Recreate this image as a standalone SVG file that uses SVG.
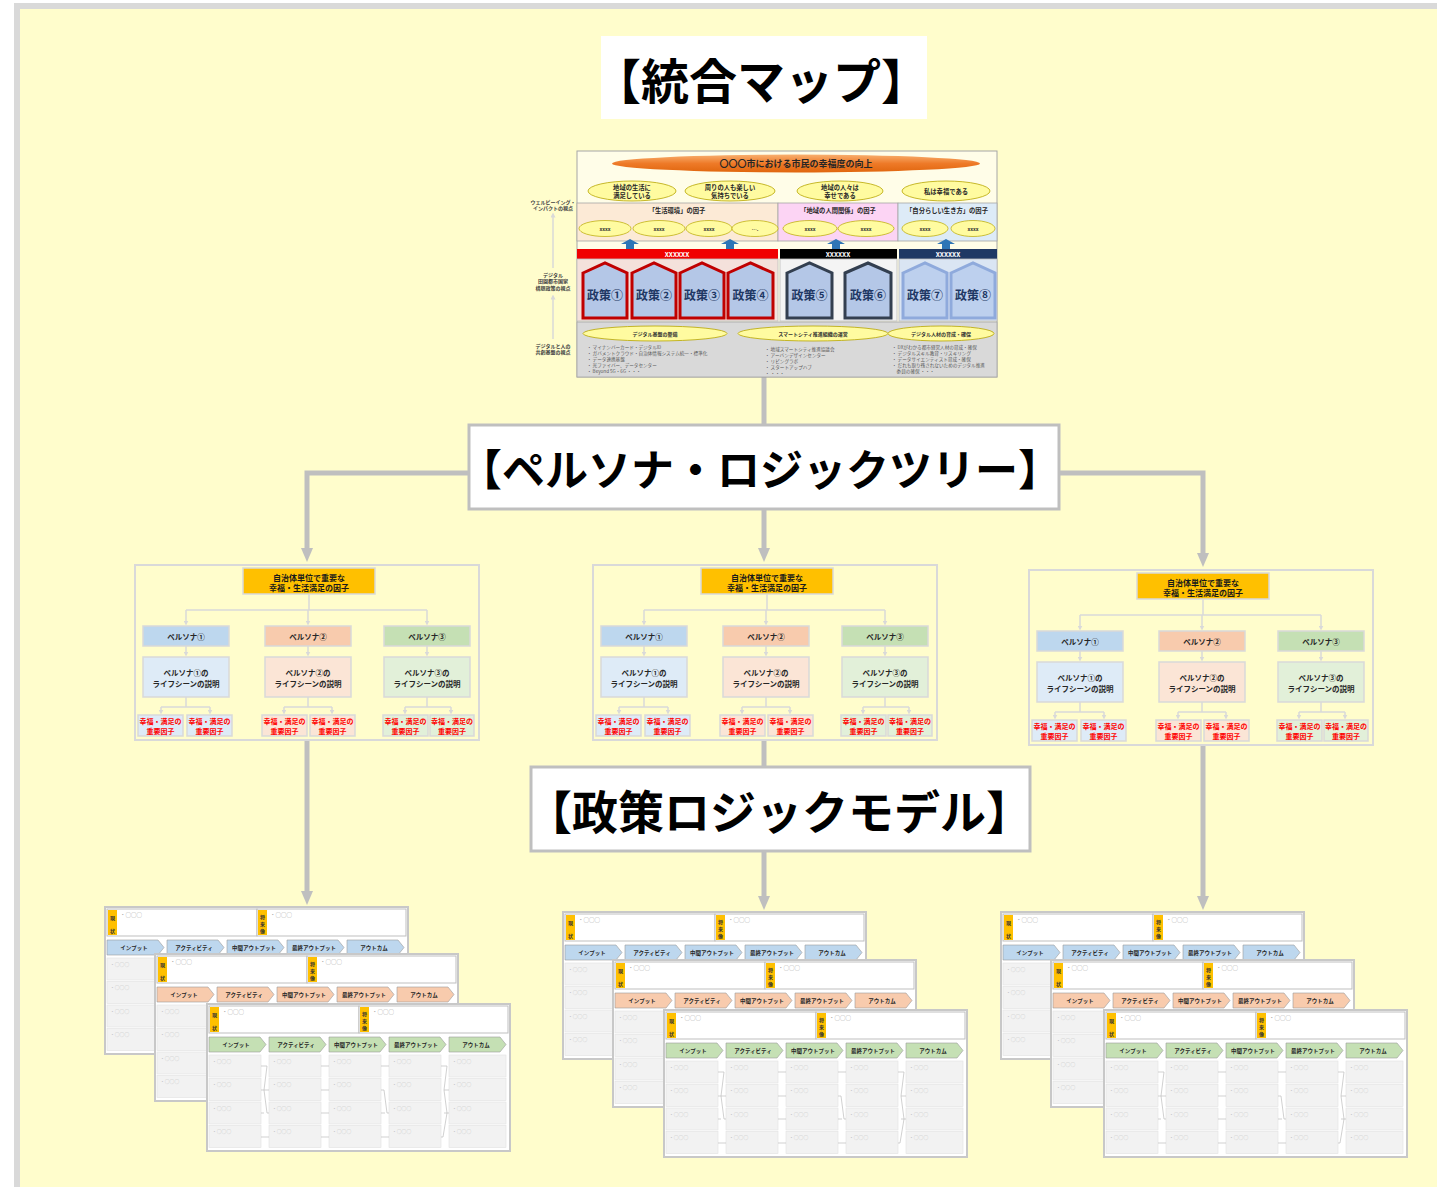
<svg xmlns="http://www.w3.org/2000/svg" xmlns:xlink="http://www.w3.org/1999/xlink" width="1437" height="1187" viewBox="0 0 1437 1187">
<style>
text{font-family:"Noto Sans CJK JP","Noto Sans",sans-serif;}
.ttl{font-weight:700;fill:#000;text-anchor:middle;dominant-baseline:central;}
.c{text-anchor:middle;dominant-baseline:central;font-weight:700;}
.pt{font-size:8px;fill:#1a1a1a;}
.pl{font-size:7.5px;fill:#262626;}
.pr{font-size:7px;fill:#FF0000;}
.m9{font-size:9px;fill:#262626;}
.m6{font-size:6.3px;fill:#262626;}
.m5{font-size:5px;fill:#333;}
.xw{font-size:6.5px;fill:#fff;}
.pol{font-size:12px;fill:#1F3864;}
.bl{font-size:4.6px;fill:#595959;dominant-baseline:central;}
.lab{font-size:5px;fill:#404040;}
.tg{font-size:5px;fill:#333;text-anchor:middle;dominant-baseline:central;font-weight:700;}
.oo{font-size:5.5px;fill:#A6A6A6;dominant-baseline:central;}
.ch{font-size:5.5px;fill:#262626;text-anchor:middle;dominant-baseline:central;font-weight:700;}
.oc{font-size:4.8px;fill:#C0C0C0;dominant-baseline:central;}
.cell{fill:#F2F2F2;stroke:#E2E2E2;stroke-width:0.6;}
.chev{stroke:#9A9A9A;stroke-width:0.6;}
.zz{fill:none;stroke:#BDBDBD;stroke-width:0.7;}
.con{fill:none;stroke:#BFBFBF;stroke-width:5;}
.tl{fill:none;stroke:#D9D9D9;stroke-width:1.5;}
.pbox{fill:#FFFDCC;stroke:#D9D9D9;stroke-width:2;}
.bx{stroke:#D9D9D9;stroke-width:1.5;}
.ye{fill:#FFFBA0;stroke:#B8A600;stroke-width:0.8;}
.ys{fill:#FFFBA0;stroke:#B8A600;stroke-width:0.7;}
</style>
<defs>
<linearGradient id="og" x1="0" y1="0" x2="0" y2="1">
<stop offset="0" stop-color="#F8B070"/>
<stop offset="0.5" stop-color="#EE7A28"/>
<stop offset="1" stop-color="#E0660E"/>
</linearGradient>
<marker id="ah" viewBox="0 0 14 12" refX="4" refY="6" markerWidth="14" markerHeight="12" markerUnits="userSpaceOnUse" orient="auto">
<path d="M0,0 L14,6 L0,12 z" fill="#BFBFBF"/>
</marker>
<marker id="sa" viewBox="0 0 6 6" refX="3" refY="3" markerWidth="5" markerHeight="5" markerUnits="userSpaceOnUse" orient="auto">
<path d="M0,0 L6,3 L0,6 z" fill="#D9D9D9"/>
</marker>
<g id="sheet">
<rect x="0" y="0" width="303" height="147" fill="#FFFFFF" stroke="#C8C8C8" stroke-width="2"/>
<rect x="2" y="2" width="150" height="27" fill="#FFFFFF" stroke="#BFBFBF" stroke-width="1"/>
<rect x="152" y="2" width="149" height="27" fill="#FFFFFF" stroke="#BFBFBF" stroke-width="1"/>
<rect x="3" y="3" width="9" height="25" fill="#FFC000"/>
<rect x="153" y="3" width="9" height="25" fill="#FFC000"/>
<text class="tg" x="7.5" y="10">現</text>
<text class="tg" x="7.5" y="23">状</text>
<text class="tg" x="157.5" y="9">将</text>
<text class="tg" x="157.5" y="16">来</text>
<text class="tg" x="157.5" y="23">像</text>
<text class="oo" x="15" y="8">・○○○</text>
<text class="oo" x="165" y="8">・○○○</text>
<path class="chev" d="M2,33 h51 l6,7.5 l-6,7.5 h-51 z"/>
<path class="chev" d="M62,33 h51 l6,7.5 l-6,7.5 h-51 z"/>
<path class="chev" d="M122,33 h51 l6,7.5 l-6,7.5 h-51 z"/>
<path class="chev" d="M182,33 h51 l6,7.5 l-6,7.5 h-51 z"/>
<path class="chev" d="M242,33 h51 l6,7.5 l-6,7.5 h-51 z"/>
<text class="ch" x="29" y="40.5">インプット</text>
<text class="ch" x="89" y="40.5">アクティビティ</text>
<text class="ch" x="149" y="40.5">中間アウトプット</text>
<text class="ch" x="209" y="40.5">最終アウトプット</text>
<text class="ch" x="269" y="40.5">アウトカム</text>
<rect class="cell" x="2" y="51" width="52" height="22"/><rect class="cell" x="2" y="74.5" width="52" height="22"/><rect class="cell" x="2" y="98" width="52" height="22"/><rect class="cell" x="2" y="121.5" width="52" height="22"/>
<rect class="cell" x="62" y="51" width="52" height="22"/><rect class="cell" x="62" y="74.5" width="52" height="22"/><rect class="cell" x="62" y="98" width="52" height="22"/><rect class="cell" x="62" y="121.5" width="52" height="22"/>
<rect class="cell" x="122" y="51" width="52" height="22"/><rect class="cell" x="122" y="74.5" width="52" height="22"/><rect class="cell" x="122" y="98" width="52" height="22"/><rect class="cell" x="122" y="121.5" width="52" height="22"/>
<rect class="cell" x="182" y="51" width="52" height="22"/><rect class="cell" x="182" y="74.5" width="52" height="22"/><rect class="cell" x="182" y="98" width="52" height="22"/><rect class="cell" x="182" y="121.5" width="52" height="22"/>
<rect class="cell" x="242" y="51" width="57" height="22"/><rect class="cell" x="242" y="74.5" width="57" height="22"/><rect class="cell" x="242" y="98" width="57" height="22"/><rect class="cell" x="242" y="121.5" width="57" height="22"/>
<text class="oc" x="5" y="56">・○○○</text><text class="oc" x="5" y="79.5">・○○○</text><text class="oc" x="5" y="103">・○○○</text><text class="oc" x="5" y="126.5">・○○○</text>
<text class="oc" x="65" y="56">・○○○</text><text class="oc" x="65" y="79.5">・○○○</text><text class="oc" x="65" y="103">・○○○</text><text class="oc" x="65" y="126.5">・○○○</text>
<text class="oc" x="125" y="56">・○○○</text><text class="oc" x="125" y="79.5">・○○○</text><text class="oc" x="125" y="103">・○○○</text><text class="oc" x="125" y="126.5">・○○○</text>
<text class="oc" x="185" y="56">・○○○</text><text class="oc" x="185" y="79.5">・○○○</text><text class="oc" x="185" y="103">・○○○</text><text class="oc" x="185" y="126.5">・○○○</text>
<text class="oc" x="245" y="56">・○○○</text><text class="oc" x="245" y="79.5">・○○○</text><text class="oc" x="245" y="103">・○○○</text><text class="oc" x="245" y="126.5">・○○○</text>
<path class="zz" d="M54,62 h3 M57,62 h3 L57,86 h5 M54,86 h3 L60,109 h2 M54,109 h3 M54,133 h8"/>
<path class="zz" d="M114,62 h8 M114,86 h8 M114,109 h8 M114,133 h8"/>
<path class="zz" d="M174,62 h8 M174,86 h3 L180,109 h2 M174,109 h4 M174,133 h8"/>
<path class="zz" d="M234,62 h3 L240,62 L237,86 L240,109 L236,133 h-2 M237,86 h5 M237,109 h5"/>
</g>
</defs>

<rect x="14" y="3" width="1423" height="1184" fill="#D9D9D9"/>
<rect x="20" y="9" width="1417" height="1178" fill="#FFFDCC"/>

<g id="connectors">
<path class="con" d="M764,377 V425"/>
<path class="con" d="M469,473 H307 V552" marker-end="url(#ah)"/>
<path class="con" d="M1059,473 H1203 V557" marker-end="url(#ah)"/>
<path class="con" d="M764,509 V552" marker-end="url(#ah)"/>
<path class="con" d="M307,741 V895" marker-end="url(#ah)"/>
<path class="con" d="M764,741 V767"/>
<path class="con" d="M764,851 V900" marker-end="url(#ah)"/>
<path class="con" d="M1203,746 V900" marker-end="url(#ah)"/>
</g>

<g id="title-integrated-map">
<rect x="601" y="36" width="326" height="83" fill="#FFFFFF"/>
<text class="ttl" x="761" y="78" style="font-size:48px">【統合マップ】</text>
</g>

<g id="integrated-map">
<text class="c lab" x="553" y="201">ウェルビーイング・</text>
<text class="c lab" x="553" y="207.5">インパクトの視点</text>
<text class="c lab" x="553" y="274">デジタル</text>
<text class="c lab" x="553" y="280.5">田園都市国家</text>
<text class="c lab" x="553" y="287">構想政策の視点</text>
<text class="c lab" x="553" y="345">デジタルと人の</text>
<text class="c lab" x="553" y="351.5">共創基盤の視点</text>
<path class="tl" d="M553,339 V297" marker-end="url(#sa)" stroke-width="1"/>
<path class="tl" d="M553,268 V215" marker-end="url(#sa)" stroke-width="1"/>
<rect x="577" y="151" width="420" height="226" fill="#FFFDE8" stroke="#A6A6A6" stroke-width="1"/>
<ellipse cx="796" cy="163.5" rx="184" ry="9" fill="url(#og)"/>
<text class="c m9" x="796" y="163.5">〇〇〇市における市民の幸福度の向上</text>
<ellipse class="ye" cx="632" cy="191" rx="44" ry="10"/>
<ellipse class="ye" cx="730" cy="191" rx="45" ry="10"/>
<ellipse class="ye" cx="840" cy="191" rx="43" ry="10"/>
<ellipse class="ye" cx="946" cy="191" rx="44" ry="10"/>
<text class="c m6" x="632" y="187.5">地域の生活に</text>
<text class="c m6" x="632" y="195">満足している</text>
<text class="c m6" x="730" y="187.5">周りの人も楽しい</text>
<text class="c m6" x="730" y="195">気持ちでいる</text>
<text class="c m6" x="840" y="187.5">地域の人々は</text>
<text class="c m6" x="840" y="195">幸せである</text>
<text class="c m6" x="946" y="191">私は幸福である</text>
<rect x="577" y="203" width="201" height="38" fill="#FCEAD6" stroke="#A6A6A6" stroke-width="0.8"/>
<rect x="778" y="203" width="120" height="38" fill="#FCD4F4" stroke="#A6A6A6" stroke-width="0.8"/>
<rect x="898" y="203" width="99" height="38" fill="#DDEBF7" stroke="#A6A6A6" stroke-width="0.8"/>
<text class="c m6" x="677" y="210.5">「生活環境」の因子</text>
<text class="c m6" x="838" y="210.5">「地域の人間関係」の因子</text>
<text class="c m6" x="947" y="210.5">「自分らしい生き方」の因子</text>
<ellipse class="ys" cx="605" cy="228.5" rx="26" ry="8"/>
<ellipse class="ys" cx="659" cy="228.5" rx="26" ry="8"/>
<ellipse class="ys" cx="709" cy="228.5" rx="23" ry="8"/>
<ellipse class="ys" cx="755" cy="228.5" rx="23" ry="8"/>
<ellipse class="ys" cx="810" cy="228.5" rx="27" ry="8"/>
<ellipse class="ys" cx="866" cy="228.5" rx="28" ry="8"/>
<ellipse class="ys" cx="925" cy="228.5" rx="23" ry="8"/>
<ellipse class="ys" cx="973" cy="228.5" rx="22" ry="8"/>
<text class="c m5" x="605" y="228.5">xxxx</text>
<text class="c m5" x="659" y="228.5">xxxx</text>
<text class="c m5" x="709" y="228.5">xxxx</text>
<text class="c m5" x="755" y="228.5">….</text>
<text class="c m5" x="810" y="228.5">xxxx</text>
<text class="c m5" x="866" y="228.5">xxxx</text>
<text class="c m5" x="925" y="228.5">xxxx</text>
<text class="c m5" x="973" y="228.5">xxxx</text>
<g fill="#2E75B6">
<path d="M630,239 l9,5 h-5 v5 h-8 v-5 h-5 z"/>
<path d="M730,239 l9,5 h-5 v5 h-8 v-5 h-5 z"/>
<path d="M836,239 l9,5 h-5 v5 h-8 v-5 h-5 z"/>
<path d="M946,239 l9,5 h-5 v5 h-8 v-5 h-5 z"/>
</g>
<rect x="577" y="249" width="201" height="10" fill="#F00000"/>
<rect x="780" y="249" width="117" height="10" fill="#000000"/>
<rect x="899" y="249" width="98" height="10" fill="#1F3864"/>
<text class="c xw" x="677" y="254">XXXXXX</text>
<text class="c xw" x="838" y="254">XXXXXX</text>
<text class="c xw" x="948" y="254">XXXXXX</text>
<rect x="577" y="259" width="201" height="62" fill="#F4E1DB" stroke="#BFBFBF" stroke-width="0.8"/>
<rect x="780" y="259" width="117" height="62" fill="#F4F4F4" stroke="#BFBFBF" stroke-width="0.8"/>
<rect x="899" y="259" width="98" height="62" fill="#DAE5F3" stroke="#BFBFBF" stroke-width="0.8"/>
<g fill="#B4C7E7" stroke="#C00000" stroke-width="3">
<path d="M583,273 L605,263 L627,273 V318 H583 Z"/>
<path d="M632,273 L654,263 L676,273 V318 H632 Z"/>
<path d="M680,273 L702,263 L724,273 V318 H680 Z"/>
<path d="M728,273 L750.5,263 L773,273 V318 H728 Z"/>
</g>
<g fill="#B4C7E7" stroke="#333F50" stroke-width="3">
<path d="M787,273 L809.5,263 L832,273 V318 H787 Z"/>
<path d="M845,273 L868,263 L891,273 V318 H845 Z"/>
</g>
<g fill="#BDD0EE" stroke="#8FAADC" stroke-width="3">
<path d="M903,273 L925,263 L947,273 V318 H903 Z"/>
<path d="M951,273 L973,263 L995,273 V318 H951 Z"/>
</g>
<text class="c pol" x="605" y="294">政策①</text>
<text class="c pol" x="654" y="294">政策②</text>
<text class="c pol" x="702" y="294">政策③</text>
<text class="c pol" x="750.5" y="294">政策④</text>
<text class="c pol" x="809.5" y="294">政策⑤</text>
<text class="c pol" x="868" y="294">政策⑥</text>
<text class="c pol" x="925" y="294">政策⑦</text>
<text class="c pol" x="973" y="294">政策⑧</text>
<rect x="577" y="322" width="420" height="55" fill="#D9D9D9" stroke="#A6A6A6" stroke-width="0.8"/>
<ellipse class="ye" cx="655" cy="333.5" rx="72" ry="7.5"/>
<ellipse class="ye" cx="813" cy="333.5" rx="75" ry="7.5"/>
<ellipse class="ye" cx="941" cy="333.5" rx="53" ry="7.5"/>
<text class="c m5" x="655" y="333.5">デジタル基盤の整備</text>
<text class="c m5" x="813" y="333.5">スマートシティ推進組織の運営</text>
<text class="c m5" x="941" y="333.5">デジタル人材の育成・確保</text>
<text class="bl" x="587" y="347">・ マイナンバーカード・デジタルID</text>
<text class="bl" x="587" y="353">・ ガバメントクラウド・自治体情報システム統一・標準化</text>
<text class="bl" x="587" y="359">・ データ連携基盤</text>
<text class="bl" x="587" y="365">・ 光ファイバー、データセンター</text>
<text class="bl" x="587" y="371">・ Beyond 5G・6G ・・・</text>
<text class="bl" x="765" y="349">・ 地域スマートシティ推進協議会</text>
<text class="bl" x="765" y="355">・ アーバンデザインセンター</text>
<text class="bl" x="765" y="361">・ リビングラボ</text>
<text class="bl" x="765" y="367">・ スタートアップハブ</text>
<text class="bl" x="765" y="373">・ ・・・</text>
<text class="bl" x="892" y="347">・ DXがわかる都市経営人材の育成・確保</text>
<text class="bl" x="892" y="353">・ デジタルスキル教育・リスキリング</text>
<text class="bl" x="892" y="359">・ データサイエンティスト育成・確保</text>
<text class="bl" x="892" y="365">・ だれも取り残されないためのデジタル推進</text>
<text class="bl" x="892" y="371">　委員の確保 ・・・</text>
</g>

<g id="title-persona-logic-tree">
<rect x="469" y="425" width="590" height="84" fill="#FFFFFF" stroke="#BFBFBF" stroke-width="3"/>
<text class="ttl" x="760" y="467" style="font-size:43px">【ペルソナ・ロジックツリー】</text>
</g>

<g id="persona-tree-1" transform="translate(135,565)">
<rect class="pbox" x="0" y="0" width="344" height="175"/>
<rect class="bx" x="108" y="3" width="132" height="26" fill="#FFC000"/>
<text class="c pt" x="174" y="12">自治体単位で重要な</text>
<text class="c pt" x="174" y="22">幸福・生活満足の因子</text>
<path class="tl" d="M174,29 V45 M51,45 H292"/>
<path class="tl" d="M51,45 V58" marker-end="url(#sa)"/><path class="tl" d="M173,45 V58" marker-end="url(#sa)"/><path class="tl" d="M292,45 V58" marker-end="url(#sa)"/>
<rect class="bx" x="8" y="61" width="86" height="20" fill="#BDD7EE"/>
<rect class="bx" x="130" y="61" width="86" height="20" fill="#F8CBAD"/>
<rect class="bx" x="249" y="61" width="86" height="20" fill="#C5E0B4"/>
<text class="c pl" x="51" y="71">ペルソナ①</text>
<text class="c pl" x="173" y="71">ペルソナ②</text>
<text class="c pl" x="292" y="71">ペルソナ③</text>
<path class="tl" d="M51,81 V89" marker-end="url(#sa)"/><path class="tl" d="M173,81 V89" marker-end="url(#sa)"/><path class="tl" d="M292,81 V89" marker-end="url(#sa)"/>
<rect class="bx" x="8" y="92" width="86" height="40" fill="#DEEBF7"/>
<rect class="bx" x="130" y="92" width="86" height="40" fill="#FBE5D6"/>
<rect class="bx" x="249" y="92" width="86" height="40" fill="#E2F0D9"/>
<text class="c pl" x="51" y="107">ペルソナ①の</text><text class="c pl" x="51" y="118">ライフシーンの説明</text>
<text class="c pl" x="173" y="107">ペルソナ②の</text><text class="c pl" x="173" y="118">ライフシーンの説明</text>
<text class="c pl" x="292" y="107">ペルソナ③の</text><text class="c pl" x="292" y="118">ライフシーンの説明</text>
<path class="tl" d="M51,132 V142 M26,142 H75 M173,132 V142 M149,142 H197 M292,132 V142 M270,142 H316"/>
<path class="tl" d="M26,142 V147" marker-end="url(#sa)"/><path class="tl" d="M75,142 V147" marker-end="url(#sa)"/>
<path class="tl" d="M149,142 V147" marker-end="url(#sa)"/><path class="tl" d="M197,142 V147" marker-end="url(#sa)"/>
<path class="tl" d="M270,142 V147" marker-end="url(#sa)"/><path class="tl" d="M316,142 V147" marker-end="url(#sa)"/>
<rect class="bx" x="3" y="150" width="45" height="21" fill="#DEEBF7"/><rect class="bx" x="52" y="150" width="45" height="21" fill="#DEEBF7"/>
<rect class="bx" x="127" y="150" width="45" height="21" fill="#FBE5D6"/><rect class="bx" x="175" y="150" width="45" height="21" fill="#FBE5D6"/>
<rect class="bx" x="248" y="150" width="45" height="21" fill="#E2F0D9"/><rect class="bx" x="295" y="150" width="44" height="21" fill="#E2F0D9"/>
<text class="c pr" x="25.5" y="156">幸福・満足の</text><text class="c pr" x="25.5" y="165.5">重要因子</text>
<text class="c pr" x="74.5" y="156">幸福・満足の</text><text class="c pr" x="74.5" y="165.5">重要因子</text>
<text class="c pr" x="149.5" y="156">幸福・満足の</text><text class="c pr" x="149.5" y="165.5">重要因子</text>
<text class="c pr" x="197.5" y="156">幸福・満足の</text><text class="c pr" x="197.5" y="165.5">重要因子</text>
<text class="c pr" x="270.5" y="156">幸福・満足の</text><text class="c pr" x="270.5" y="165.5">重要因子</text>
<text class="c pr" x="317" y="156">幸福・満足の</text><text class="c pr" x="317" y="165.5">重要因子</text>
</g>

<g id="persona-tree-2" transform="translate(593,565)">
<rect class="pbox" x="0" y="0" width="344" height="175"/>
<rect class="bx" x="108" y="3" width="132" height="26" fill="#FFC000"/>
<text class="c pt" x="174" y="12">自治体単位で重要な</text>
<text class="c pt" x="174" y="22">幸福・生活満足の因子</text>
<path class="tl" d="M174,29 V45 M51,45 H292"/>
<path class="tl" d="M51,45 V58" marker-end="url(#sa)"/><path class="tl" d="M173,45 V58" marker-end="url(#sa)"/><path class="tl" d="M292,45 V58" marker-end="url(#sa)"/>
<rect class="bx" x="8" y="61" width="86" height="20" fill="#BDD7EE"/>
<rect class="bx" x="130" y="61" width="86" height="20" fill="#F8CBAD"/>
<rect class="bx" x="249" y="61" width="86" height="20" fill="#C5E0B4"/>
<text class="c pl" x="51" y="71">ペルソナ①</text>
<text class="c pl" x="173" y="71">ペルソナ②</text>
<text class="c pl" x="292" y="71">ペルソナ③</text>
<path class="tl" d="M51,81 V89" marker-end="url(#sa)"/><path class="tl" d="M173,81 V89" marker-end="url(#sa)"/><path class="tl" d="M292,81 V89" marker-end="url(#sa)"/>
<rect class="bx" x="8" y="92" width="86" height="40" fill="#DEEBF7"/>
<rect class="bx" x="130" y="92" width="86" height="40" fill="#FBE5D6"/>
<rect class="bx" x="249" y="92" width="86" height="40" fill="#E2F0D9"/>
<text class="c pl" x="51" y="107">ペルソナ①の</text><text class="c pl" x="51" y="118">ライフシーンの説明</text>
<text class="c pl" x="173" y="107">ペルソナ②の</text><text class="c pl" x="173" y="118">ライフシーンの説明</text>
<text class="c pl" x="292" y="107">ペルソナ③の</text><text class="c pl" x="292" y="118">ライフシーンの説明</text>
<path class="tl" d="M51,132 V142 M26,142 H75 M173,132 V142 M149,142 H197 M292,132 V142 M270,142 H316"/>
<path class="tl" d="M26,142 V147" marker-end="url(#sa)"/><path class="tl" d="M75,142 V147" marker-end="url(#sa)"/>
<path class="tl" d="M149,142 V147" marker-end="url(#sa)"/><path class="tl" d="M197,142 V147" marker-end="url(#sa)"/>
<path class="tl" d="M270,142 V147" marker-end="url(#sa)"/><path class="tl" d="M316,142 V147" marker-end="url(#sa)"/>
<rect class="bx" x="3" y="150" width="45" height="21" fill="#DEEBF7"/><rect class="bx" x="52" y="150" width="45" height="21" fill="#DEEBF7"/>
<rect class="bx" x="127" y="150" width="45" height="21" fill="#FBE5D6"/><rect class="bx" x="175" y="150" width="45" height="21" fill="#FBE5D6"/>
<rect class="bx" x="248" y="150" width="45" height="21" fill="#E2F0D9"/><rect class="bx" x="295" y="150" width="44" height="21" fill="#E2F0D9"/>
<text class="c pr" x="25.5" y="156">幸福・満足の</text><text class="c pr" x="25.5" y="165.5">重要因子</text>
<text class="c pr" x="74.5" y="156">幸福・満足の</text><text class="c pr" x="74.5" y="165.5">重要因子</text>
<text class="c pr" x="149.5" y="156">幸福・満足の</text><text class="c pr" x="149.5" y="165.5">重要因子</text>
<text class="c pr" x="197.5" y="156">幸福・満足の</text><text class="c pr" x="197.5" y="165.5">重要因子</text>
<text class="c pr" x="270.5" y="156">幸福・満足の</text><text class="c pr" x="270.5" y="165.5">重要因子</text>
<text class="c pr" x="317" y="156">幸福・満足の</text><text class="c pr" x="317" y="165.5">重要因子</text>
</g>

<g id="persona-tree-3" transform="translate(1029,570)">
<rect class="pbox" x="0" y="0" width="344" height="175"/>
<rect class="bx" x="108" y="3" width="132" height="26" fill="#FFC000"/>
<text class="c pt" x="174" y="12">自治体単位で重要な</text>
<text class="c pt" x="174" y="22">幸福・生活満足の因子</text>
<path class="tl" d="M174,29 V45 M51,45 H292"/>
<path class="tl" d="M51,45 V58" marker-end="url(#sa)"/><path class="tl" d="M173,45 V58" marker-end="url(#sa)"/><path class="tl" d="M292,45 V58" marker-end="url(#sa)"/>
<rect class="bx" x="8" y="61" width="86" height="20" fill="#BDD7EE"/>
<rect class="bx" x="130" y="61" width="86" height="20" fill="#F8CBAD"/>
<rect class="bx" x="249" y="61" width="86" height="20" fill="#C5E0B4"/>
<text class="c pl" x="51" y="71">ペルソナ①</text>
<text class="c pl" x="173" y="71">ペルソナ②</text>
<text class="c pl" x="292" y="71">ペルソナ③</text>
<path class="tl" d="M51,81 V89" marker-end="url(#sa)"/><path class="tl" d="M173,81 V89" marker-end="url(#sa)"/><path class="tl" d="M292,81 V89" marker-end="url(#sa)"/>
<rect class="bx" x="8" y="92" width="86" height="40" fill="#DEEBF7"/>
<rect class="bx" x="130" y="92" width="86" height="40" fill="#FBE5D6"/>
<rect class="bx" x="249" y="92" width="86" height="40" fill="#E2F0D9"/>
<text class="c pl" x="51" y="107">ペルソナ①の</text><text class="c pl" x="51" y="118">ライフシーンの説明</text>
<text class="c pl" x="173" y="107">ペルソナ②の</text><text class="c pl" x="173" y="118">ライフシーンの説明</text>
<text class="c pl" x="292" y="107">ペルソナ③の</text><text class="c pl" x="292" y="118">ライフシーンの説明</text>
<path class="tl" d="M51,132 V142 M26,142 H75 M173,132 V142 M149,142 H197 M292,132 V142 M270,142 H316"/>
<path class="tl" d="M26,142 V147" marker-end="url(#sa)"/><path class="tl" d="M75,142 V147" marker-end="url(#sa)"/>
<path class="tl" d="M149,142 V147" marker-end="url(#sa)"/><path class="tl" d="M197,142 V147" marker-end="url(#sa)"/>
<path class="tl" d="M270,142 V147" marker-end="url(#sa)"/><path class="tl" d="M316,142 V147" marker-end="url(#sa)"/>
<rect class="bx" x="3" y="150" width="45" height="21" fill="#DEEBF7"/><rect class="bx" x="52" y="150" width="45" height="21" fill="#DEEBF7"/>
<rect class="bx" x="127" y="150" width="45" height="21" fill="#FBE5D6"/><rect class="bx" x="175" y="150" width="45" height="21" fill="#FBE5D6"/>
<rect class="bx" x="248" y="150" width="45" height="21" fill="#E2F0D9"/><rect class="bx" x="295" y="150" width="44" height="21" fill="#E2F0D9"/>
<text class="c pr" x="25.5" y="156">幸福・満足の</text><text class="c pr" x="25.5" y="165.5">重要因子</text>
<text class="c pr" x="74.5" y="156">幸福・満足の</text><text class="c pr" x="74.5" y="165.5">重要因子</text>
<text class="c pr" x="149.5" y="156">幸福・満足の</text><text class="c pr" x="149.5" y="165.5">重要因子</text>
<text class="c pr" x="197.5" y="156">幸福・満足の</text><text class="c pr" x="197.5" y="165.5">重要因子</text>
<text class="c pr" x="270.5" y="156">幸福・満足の</text><text class="c pr" x="270.5" y="165.5">重要因子</text>
<text class="c pr" x="317" y="156">幸福・満足の</text><text class="c pr" x="317" y="165.5">重要因子</text>
</g>

<g id="title-policy-logic-model">
<rect x="531" y="767" width="499" height="84" fill="#FFFFFF" stroke="#BFBFBF" stroke-width="3"/>
<text class="ttl" x="779" y="809" style="font-size:46px">【政策ロジックモデル】</text>
</g>

<g id="logic-model-1">
<use href="#sheet" x="105" y="907" fill="#BDD7EE"/>
<use href="#sheet" x="155" y="954" fill="#F8CBAD"/>
<use href="#sheet" x="207" y="1004" fill="#C5E0B4"/>
</g>
<g id="logic-model-2">
<use href="#sheet" x="563" y="912" fill="#BDD7EE"/>
<use href="#sheet" x="613" y="960" fill="#F8CBAD"/>
<use href="#sheet" x="664" y="1010" fill="#C5E0B4"/>
</g>
<g id="logic-model-3">
<use href="#sheet" x="1001" y="912" fill="#BDD7EE"/>
<use href="#sheet" x="1051" y="960" fill="#F8CBAD"/>
<use href="#sheet" x="1104" y="1010" fill="#C5E0B4"/>
</g>
</svg>
